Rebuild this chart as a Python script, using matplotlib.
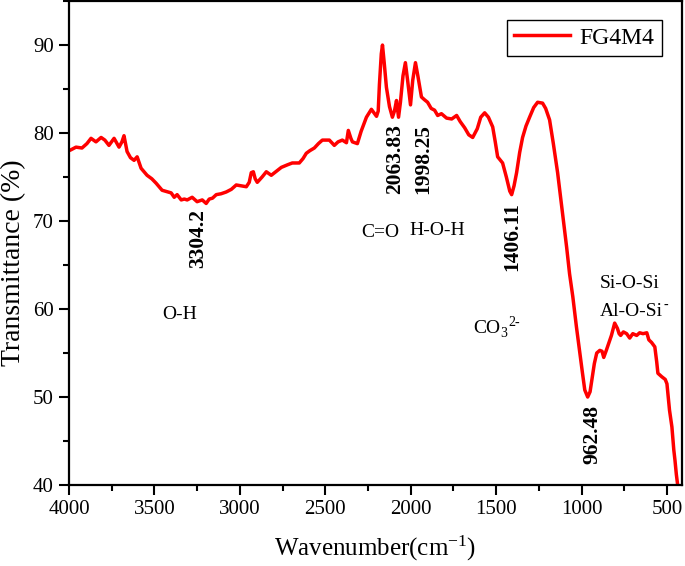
import matplotlib
matplotlib.use("Agg")
import matplotlib.pyplot as plt
from matplotlib.ticker import MultipleLocator

plt.rcParams['font.family'] = ['Liberation Serif', 'DejaVu Serif']
plt.rcParams['mathtext.fontset'] = 'custom'
plt.rcParams['mathtext.rm'] = 'Liberation Serif'
plt.rcParams['mathtext.it'] = 'Liberation Serif:italic'
plt.rcParams['mathtext.bf'] = 'Liberation Serif:bold'

wavenumber = [4000, 3988, 3959, 3924, 3895, 3871, 3842, 3812, 3790, 3766, 3736, 3707, 3690, 3678,
              3660, 3640, 3619, 3601, 3578, 3543, 3515, 3490, 3455, 3420, 3402, 3384, 3367, 3343,
              3325, 3308, 3279, 3250, 3220, 3197, 3179, 3160, 3138, 3110, 3080, 3050, 3021, 2990,
              2962, 2945, 2933, 2921, 2910, 2898, 2870, 2845, 2816, 2790, 2757, 2720, 2693, 2652,
              2630, 2611, 2590, 2564, 2540, 2517, 2476, 2447, 2425, 2400, 2376, 2365, 2350, 2341,
              2312, 2290, 2259, 2230, 2200, 2190, 2183, 2172, 2165, 2155, 2142, 2124, 2107, 2095,
              2083, 2071, 2060, 2045, 2031, 2018, 2001, 1988, 1972, 1958, 1937, 1920, 1901, 1880,
              1860, 1842, 1820, 1790, 1760, 1731, 1710, 1684, 1660, 1637, 1610, 1590, 1567, 1545,
              1520, 1505, 1491, 1462, 1440, 1420, 1409, 1395, 1380, 1362, 1345, 1325, 1304, 1280,
              1257, 1228, 1210, 1187, 1165, 1140, 1115, 1087, 1070, 1051, 1030, 1010, 995, 981,
              964, 950, 940, 925, 911, 893, 880, 870, 855, 841, 825, 806, 790, 780, 771, 755, 736,
              718, 700, 677, 660, 640, 618, 606, 590, 571, 560, 553, 530, 510, 500, 485, 471, 460,
              453, 445, 436]
transmittance = [78.0, 78.1, 78.4, 78.3, 78.8, 79.4, 79.0, 79.5, 79.2, 78.6, 79.4, 78.4, 79.0, 79.7,
                 77.9, 77.2, 76.9, 77.3, 76.0, 75.2, 74.8, 74.3, 73.5, 73.3, 73.2, 72.7, 73.0, 72.4,
                 72.5, 72.4, 72.7, 72.2, 72.4, 72.0, 72.5, 72.6, 73.0, 73.1, 73.3, 73.6, 74.1, 74.0,
                 73.9, 74.4, 75.5, 75.6, 74.8, 74.4, 75.0, 75.6, 75.2, 75.6, 76.1, 76.4, 76.6, 76.6,
                 77.1, 77.7, 78.0, 78.3, 78.8, 79.2, 79.2, 78.6, 79.0, 79.2, 78.9, 80.3, 79.4, 79.0,
                 78.8, 80.2, 81.8, 82.7, 81.9, 82.5, 85.5, 89.0, 90.0, 88.0, 85.2, 83.0, 81.8, 82.5,
                 83.7, 81.8, 83.5, 86.5, 88.0, 86.0, 83.2, 86.0, 88.0, 86.5, 84.1, 83.8, 83.5, 82.8,
                 82.6, 82.0, 82.2, 81.7, 81.6, 82.0, 81.3, 80.6, 79.8, 79.5, 80.5, 81.8, 82.3, 81.8,
                 80.7, 79.0, 77.3, 76.6, 75.0, 73.4, 73.0, 74.0, 75.5, 77.8, 79.5, 80.8, 81.8, 82.9,
                 83.5, 83.4, 82.8, 81.5, 78.8, 75.5, 71.5, 67.0, 64.0, 61.4, 58.0, 55.0, 52.8, 50.8,
                 50.0, 50.6, 51.9, 53.8, 55.0, 55.3, 55.2, 54.5, 55.3, 56.1, 57.0, 58.4, 57.8, 57.2,
                 57.0, 57.4, 57.2, 56.7, 57.2, 57.0, 57.3, 57.2, 57.3, 56.5, 56.2, 55.7, 54.0, 52.7,
                 52.3, 52.0, 51.5, 48.5, 46.6, 44.0, 42.8, 41.2, 39.8]

peak_labels = ["3304.2", "2063.83", "1998.25", "1406.11", "962.48"]
peak_x = [3245, 2092, 1928, 1407, 939]
peak_y = [68.0, 77.1, 77.1, 68.2, 45.8]

group_labels = ["O-H", "C=O", "H-O-H"]
group_x = [3350, 2180, 1846]
group_y = [59.4, 68.7, 68.9]

# left-aligned labels: base text, subscript, superscript
left_labels = ["CO", "Si-O-Si", "Al-O-Si"]
left_sub = ["3", "", ""]
left_sup = ["2-", "", "-"]
left_x = [1636, 892, 892]
left_y = [57.8, 62.9, 59.7]

x_ticks = [4000, 3500, 3000, 2500, 2000, 1500, 1000, 500]
y_ticks = [40, 50, 60, 70, 80, 90]

fig = plt.figure(figsize=(6.85, 5.66), dpi=100)
ax = fig.add_axes([0.1007, 0.1431, 0.8949, 0.855])

ax.plot(wavenumber, transmittance, color='#ff0000', lw=2.5, label='FG4M4')

ax.set_xlim(4000, 412)
ax.set_ylim(40, 95)
ax.set_xticks(x_ticks)
ax.set_yticks(y_ticks)
ax.xaxis.set_minor_locator(MultipleLocator(250))
ax.yaxis.set_minor_locator(MultipleLocator(5))
ax.tick_params(which='major', direction='out', length=7, width=1.5, labelsize=15, pad=4)
ax.tick_params(which='minor', direction='out', length=4, width=1.5)
for s in ax.spines.values():
    s.set_linewidth(1.6)

ax.set_xlabel("Wavenumber(cm$^{-1}$)", fontsize=18)
ax.xaxis.set_label_coords(0.5, -0.100)
ylab = ax.set_ylabel("Transmittance (%)", fontsize=20, va='center', ha='center')
ax.yaxis.set_label_coords(-0.091, 0.46)

for t, x, y in zip(peak_labels, peak_x, peak_y):
    ax.text(x, y, t, rotation=90, ha='center', va='center', fontsize=15.5, fontweight='bold')
for t, x, y in zip(group_labels, group_x, group_y):
    ax.text(x, y, t, ha='center', va='center', fontsize=14)
for t, sb, sp, x, y in zip(left_labels, left_sub, left_sup, left_x, left_y):
    base = ax.text(x, y, t, ha='left', va='center', fontsize=14)
    if sb:
        ax.annotate(sb, xy=(1.0, 0.22), xycoords=base, ha='left', va='center', fontsize=10)
    if sp:
        ax.annotate(sp, xy=(1.0, 0.85), xycoords=base,
                    xytext=(6 if sb else 0.5, 0), textcoords='offset points',
                    ha='left', va='center', fontsize=10)

leg = ax.legend(loc='upper right', bbox_to_anchor=(0.967, 0.961), borderaxespad=0,
                fontsize=17, fancybox=False, framealpha=1, edgecolor='black',
                handlelength=2.4, handletextpad=0.4, borderpad=0.3)
leg.get_frame().set_linewidth(1.0)

fig.savefig("out.png", dpi=100)
